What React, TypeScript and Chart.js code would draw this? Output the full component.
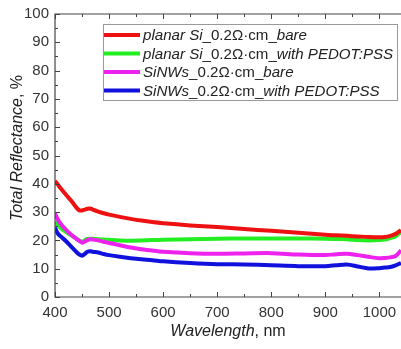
import React, { useEffect, useRef } from "react";
import { Chart, registerables } from "chart.js";

Chart.register(...registerables);

// ---------- data ----------
const WAVELENGTH = [400, 405, 410, 420, 430, 440, 445, 450, 455, 460, 465, 470, 480, 490, 500, 520, 540, 560, 580, 600, 650, 700, 750, 800, 850, 900, 920, 940, 960, 980, 1000, 1010, 1020, 1030, 1040];

const PLANAR_BARE = [41, 39.8, 38.5, 36.2, 34, 31.5, 30.6, 30.6, 30.9, 31.2, 31.3, 30.9, 30.2, 29.6, 29.1, 28.3, 27.6, 27, 26.5, 26.1, 25.3, 24.7, 24, 23.4, 22.7, 22, 21.8, 21.6, 21.4, 21.2, 21.1, 21.2, 21.6, 22.3, 23.6];
const PLANAR_PEDOT = [26.5, 25.5, 24.5, 23, 21.8, 20.6, 20, 19.6, 20, 20.5, 20.6, 20.6, 20.4, 20.3, 20.2, 20, 19.9, 20, 20.1, 20.2, 20.4, 20.6, 20.7, 20.7, 20.7, 20.6, 20.5, 20.4, 20.1, 20, 20.1, 20.3, 20.8, 21.5, 23];
const SINW_BARE = [29.5, 27.5, 26, 23.8, 22, 20.5, 19.8, 19.2, 19.6, 20.1, 20.4, 20.3, 20, 19.5, 19.1, 18.3, 17.5, 16.9, 16.4, 16, 15.5, 15.3, 15.4, 15.5, 15, 14.8, 15.1, 15.3, 14.8, 14.2, 13.7, 13.8, 14, 14.5, 16.5];
const SINW_PEDOT = [24.5, 22.5, 21.5, 19.8, 17.8, 15.8, 15, 14.6, 15.2, 16, 16.2, 16, 15.7, 15.2, 14.8, 14.2, 13.7, 13.3, 13, 12.6, 12, 11.6, 11.5, 11.2, 10.9, 10.9, 11.2, 11.5, 10.8, 10.1, 10.2, 10.4, 10.6, 11.2, 12];

const X_TICKS = [400, 500, 600, 700, 800, 900, 1000];
const X_MINOR = [450, 550, 650, 750, 850, 950];
const Y_TICKS = [0, 10, 20, 30, 40, 50, 60, 70, 80, 90, 100];
const Y_MINOR = [5, 15, 25, 35, 45, 55, 65, 75, 85, 95];

const COLORS = ["#ee1111", "#22ee22", "#ee22ee", "#1111dd"];

type Part = { t: string; i: boolean };
const LEGEND_LABELS: Part[][] = [
  [{ t: "planar Si", i: true }, { t: "_0.2Ω·cm_", i: false }, { t: "bare", i: true }],
  [{ t: "planar Si", i: true }, { t: "_0.2Ω·cm_", i: false }, { t: "with PEDOT:PSS", i: true }],
  [{ t: "SiNWs", i: true }, { t: "_0.2Ω·cm_", i: false }, { t: "bare", i: true }],
  [{ t: "SiNWs", i: true }, { t: "_0.2Ω·cm_", i: false }, { t: "with PEDOT:PSS", i: true }],
];
const X_TITLE: Part[] = [{ t: "Wavelength", i: true }, { t: ", nm", i: false }];
const Y_TITLE: Part[] = [{ t: "Total Reflectance", i: true }, { t: ", %", i: false }];

const FONT = '"Liberation Sans", Arial, sans-serif';

function partsWidth(ctx: CanvasRenderingContext2D, parts: Part[], size: number) {
  let w = 0;
  for (const p of parts) {
    ctx.font = `${p.i ? "italic " : ""}${size}px ${FONT}`;
    w += ctx.measureText(p.t).width;
  }
  return w;
}
function drawParts(ctx: CanvasRenderingContext2D, parts: Part[], x: number, y: number, size: number) {
  let cx = x;
  for (const p of parts) {
    ctx.font = `${p.i ? "italic " : ""}${size}px ${FONT}`;
    ctx.fillText(p.t, cx, y);
    cx += ctx.measureText(p.t).width;
  }
}

const decor = {
  id: "decor",
  afterDatasetsDraw(chart: any) {
    const ctx: CanvasRenderingContext2D = chart.ctx;
    const { left, right, top, bottom } = chart.chartArea;
    const xs = chart.scales.x;
    const ys = chart.scales.y;
    ctx.save();
    // axis lines
    ctx.strokeStyle = "#444";
    ctx.lineWidth = 1.2;
    ctx.beginPath();
    ctx.moveTo(right, top);
    ctx.lineTo(left, top);
    ctx.lineTo(left, bottom);
    ctx.lineTo(right, bottom);
    ctx.stroke();
    ctx.lineWidth = 1;
    ctx.beginPath();
    for (const v of X_TICKS) {
      const px = Math.round(xs.getPixelForValue(v)) + 0.5;
      ctx.moveTo(px, bottom); ctx.lineTo(px, bottom - 5);
      ctx.moveTo(px, top); ctx.lineTo(px, top + 5);
    }
    for (const v of X_MINOR) {
      const px = Math.round(xs.getPixelForValue(v)) + 0.5;
      ctx.moveTo(px, bottom); ctx.lineTo(px, bottom - 3);
      ctx.moveTo(px, top); ctx.lineTo(px, top + 3);
    }
    for (const v of Y_TICKS) {
      const py = Math.round(ys.getPixelForValue(v)) + 0.5;
      ctx.moveTo(left, py); ctx.lineTo(left + 5, py);
    }
    for (const v of Y_MINOR) {
      const py = Math.round(ys.getPixelForValue(v)) + 0.5;
      ctx.moveTo(left, py); ctx.lineTo(left + 3, py);
    }
    ctx.stroke();

    // titles
    ctx.fillStyle = "#222";
    ctx.textBaseline = "middle";
    ctx.textAlign = "left";
    const tsize = 16;
    const xw = partsWidth(ctx, X_TITLE, tsize);
    drawParts(ctx, X_TITLE, (left + right) / 2 - xw / 2, 332, tsize);
    const yw = partsWidth(ctx, Y_TITLE, tsize);
    ctx.save();
    ctx.translate(18, 148);
    ctx.rotate(-Math.PI / 2);
    drawParts(ctx, Y_TITLE, -yw / 2, 0, tsize);
    ctx.restore();

    // legend
    ctx.fillStyle = "#fff";
    ctx.fillRect(103, 24, 294, 76);
    ctx.strokeStyle = "#999";
    ctx.lineWidth = 1;
    ctx.strokeRect(103.5, 24.5, 294, 76);
    const rows = [35, 53.5, 72, 90.5];
    LEGEND_LABELS.forEach((parts, i) => {
      ctx.strokeStyle = COLORS[i];
      ctx.lineWidth = 4;
      ctx.beginPath();
      ctx.moveTo(104, rows[i]);
      ctx.lineTo(140, rows[i]);
      ctx.stroke();
      ctx.fillStyle = "#222";
      drawParts(ctx, parts, 143, rows[i] + 1, 15.1);
    });
    ctx.restore();
  },
};

export default function App() {
  const ref = useRef<HTMLCanvasElement | null>(null);
  useEffect(() => {
    document.body.style.margin = "0";
    const canvas = ref.current!;
    const mk = (label: string, data: number[], color: string, order: number) => ({
      label,
      data: WAVELENGTH.map((w, i) => ({ x: w, y: data[i] })),
      borderColor: color,
      backgroundColor: color,
      borderWidth: 4,
      pointRadius: 0,
      tension: 0.3,
      order,
    });
    const labels = LEGEND_LABELS.map((p) => p.map((q) => q.t).join(""));
    const chart = new Chart(canvas, {
      type: "line",
      data: {
        datasets: [
          mk(labels[0], PLANAR_BARE, COLORS[0], 1),
          mk(labels[1], PLANAR_PEDOT, COLORS[1], 3),
          mk(labels[2], SINW_BARE, COLORS[2], 2),
          mk(labels[3], SINW_PEDOT, COLORS[3], 0),
        ],
      },
      options: {
        animation: false,
        responsive: false,
        layout: { autoPadding: false, padding: { top: 14, right: 0, left: 0, bottom: 0 } },
        plugins: { legend: { display: false }, tooltip: { enabled: false } },
        scales: {
          x: {
            type: "linear",
            min: 400,
            max: 1040,
            afterBuildTicks: (s: any) => {
              s.ticks = X_TICKS.map((v) => ({ value: v }));
            },
            afterFit: (s: any) => {
              s.height = 52;
              s.paddingLeft = 0;
              s.paddingRight = 0;
            },
            grid: { display: false, drawTicks: false },
            border: { display: false },
            ticks: {
              font: { family: FONT, size: 15 },
              color: "#333",
              padding: 7,
              maxRotation: 0,
              autoSkip: false,
              callback: (v: any) => String(v),
            },
          },
          y: {
            min: 0,
            max: 100,
            afterBuildTicks: (s: any) => {
              s.ticks = Y_TICKS.map((v) => ({ value: v }));
            },
            afterFit: (s: any) => {
              s.width = 55;
              s.paddingTop = 0;
              s.paddingBottom = 0;
            },
            grid: { display: false, drawTicks: false },
            border: { display: false },
            ticks: { font: { family: FONT, size: 15 }, color: "#333", padding: 6, callback: (v: any) => String(v) },
          },
        },
      },
      plugins: [decor],
    } as any);
    return () => chart.destroy();
  }, []);
  return (
    <div style={{ width: 401, height: 349, position: "relative" }}>
      <canvas ref={ref} width={401} height={349} style={{ display: "block" }} />
    </div>
  );
}
